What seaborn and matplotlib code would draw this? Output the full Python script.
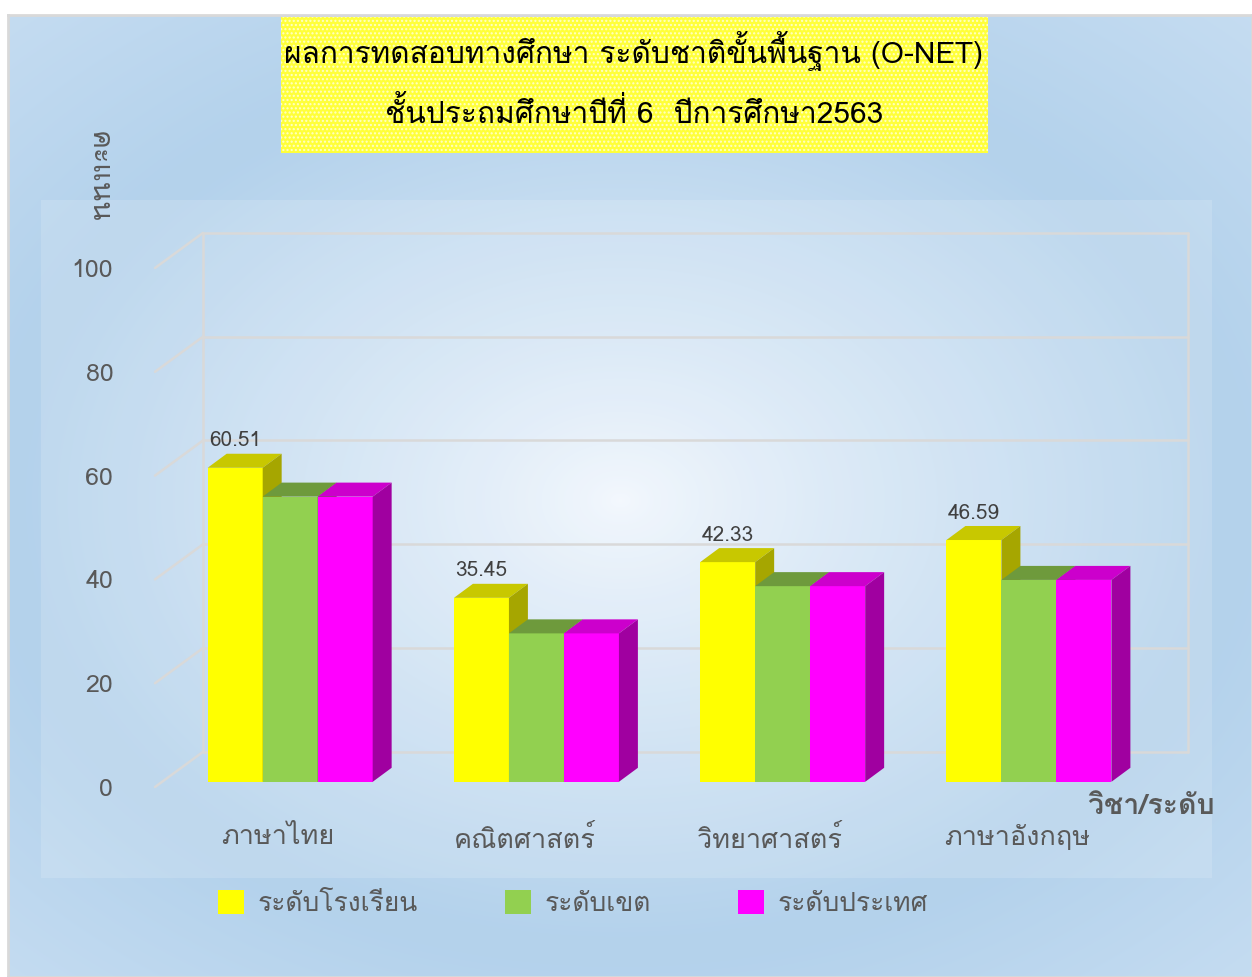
import matplotlib.pyplot as plt
import numpy as np
import pandas as pd
import seaborn as sns
from matplotlib import font_manager
from matplotlib.ft2font import FT2Font
from matplotlib.patches import Polygon, Rectangle, Patch

# --- dati ---
subjects = ["ภาษาไทย", "คณิตศาสตร์", "วิทยาศาสตร์", "ภาษาอังกฤษ"]
levels = ["ระดับโรงเรียน", "ระดับเขต", "ระดับประเทศ"]
school = [60.51, 35.45, 42.33, 46.59]
district = [54.95, 28.6, 37.7, 38.9]
national = [54.95, 28.6, 37.7, 38.9]
yticks = [0, 20, 40, 60, 80, 100]
title_lines = ["ผลการทดสอบทางศึกษา ระดับชาติขั้นพื้นฐาน (O-NET)",
               "ชั้นประถมศึกษาปีที่ 6  ปีการศึกษา2563"]
ylabel = "คะแนน"
xlabel = "วิชา/ระดับ"

front_cols = ["#FFFF00", "#92D050", "#FF00FF"]
top_cols = ["#C8C800", "#6E9A3C", "#CC00CC"]
side_cols = ["#A6A600", "#5A7E30", "#A000A0"]
grey = "#595959"
gridc = "#D9D9D9"

sns.set_theme(style="white")

# cerca un font con i glifi thai
thai_font = None
for f in font_manager.fontManager.ttflist:
    try:
        if FT2Font(f.fname).get_char_index(0x0E01):
            thai_font = f.name
            break
    except Exception:
        pass
fams = ([thai_font] if thai_font else []) + ["DejaVu Sans"]
plt.rcParams["font.family"] = fams

W, H = 1252, 977
fig = plt.figure(figsize=(W / 100, H / 100), dpi=100)
fig.patch.set_facecolor("white")

# sfondo sfumato
ax_bg = fig.add_axes([8 / W, 0, 1 - 8 / W, 1 - 15 / H], zorder=0)
yy, xx = np.mgrid[15:H, 8:W]
t = np.sqrt(((xx - 620) / 600.0) ** 2 + ((yy - 500) / 440.0) ** 2)
s = np.clip(t, 0, 1) ** 0.8
c0 = np.array([0.95, 0.97, 0.995])
c1 = np.array([0.706, 0.824, 0.925])
c2 = np.array([0.80, 0.88, 0.955])
img = c0 * (1 - s[..., None]) + c1 * s[..., None]
k = np.clip((t - 1.05) * 1.5, 0, 1)[..., None]
img = img * (1 - k) + c2 * k
ax_bg.imshow(img, aspect="auto", extent=[0, 1, 0, 1])
ax_bg.set_xticks([])
ax_bg.set_yticks([])
for sp in ax_bg.spines.values():
    sp.set_color(gridc)
    sp.set_linewidth(2)

fig.add_artist(Rectangle((41 / W, 1 - 878 / H), (1212 - 41) / W, (878 - 200) / H,
                         transform=fig.transFigure, facecolor="white", alpha=0.15,
                         linewidth=0, zorder=1))

# riquadro del titolo
fig.add_artist(Rectangle((281 / W, 1 - 153 / H), (988 - 281) / W, (153 - 17) / H,
                         transform=fig.transFigure, facecolor="#FFFF3A", edgecolor="#FFFFC8",
                         hatch="....", linewidth=0, zorder=3))
fig.text(634 / W, 1 - 51 / H, title_lines[0], ha="center", va="center", fontsize=21.5,
         color="black", zorder=4)
fig.text(634 / W, 1 - 113 / H, title_lines[1], ha="center", va="center", fontsize=21.5,
         color="black", zorder=4)

# assi principali (piano frontale)
ax = fig.add_axes([155 / W, 1 - 787 / H, 985 / W, 519 / H], zorder=2)
ax.set_facecolor("none")

df = pd.DataFrame({
    "subject": subjects * 3,
    "level": [levels[0]] * 4 + [levels[1]] * 4 + [levels[2]] * 4,
    "score": school + district + national,
})
sns.barplot(data=df, x="subject", y="score", hue="level", hue_order=levels,
            palette=front_cols, saturation=1, width=0.67, errorbar=None,
            legend=False, ax=ax)

OFF_X, OFF_Y = 0.049, 1.0   # posizione delle barre in profondità
DX, DY = 0.077, 2.7         # profondità delle barre
BX, BY = 0.195, 6.77        # profondità della parete di fondo

for i, cont in enumerate(ax.containers):
    for p in cont:
        h = p.get_height()
        x0 = p.get_x() + OFF_X
        w = p.get_width()
        x1 = x0 + w
        p.set_x(x0)
        p.set_y(OFF_Y)
        p.set_linewidth(0)
        p.set_zorder(3 + i)
        y1 = OFF_Y + h
        ax.add_patch(Polygon([(x0, y1), (x1, y1), (x1 + DX, y1 + DY), (x0 + DX, y1 + DY)],
                             closed=True, facecolor=top_cols[i], linewidth=0,
                             zorder=3 + i + 0.01, clip_on=False))
        ax.add_patch(Polygon([(x1, OFF_Y), (x1 + DX, OFF_Y + DY), (x1 + DX, y1 + DY), (x1, y1)],
                             closed=True, facecolor=side_cols[i], linewidth=0,
                             zorder=3 + i + 0.02, clip_on=False))
        if i == 0:
            ax.annotate(f"{h:.2f}", xy=(x0 + w / 2, y1), xytext=(0, 27),
                        textcoords="offset pixels", ha="center", va="center",
                        fontsize=15, color="#404040", zorder=10)

# griglia 3D
for v in yticks:
    ax.plot([-0.5, -0.5 + BX], [v, v + BY], color=gridc, lw=1.8, clip_on=False, zorder=1)
    ax.plot([-0.5 + BX, 3.5 + BX], [v + BY, v + BY], color=gridc, lw=1.8, clip_on=False, zorder=1)
for xv in [-0.5 + BX, 3.5 + BX]:
    ax.plot([xv, xv], [BY, 100 + BY], color=gridc, lw=1.8, clip_on=False, zorder=1)

ax.set_xlim(-0.5, 3.5)
ax.set_ylim(0, 100)
ax.set_yticks(yticks)
ax.set_xlabel("")
ax.set_ylabel("")
sns.despine(ax=ax, left=True, bottom=True)
ax.tick_params(axis="y", length=0, pad=30, labelsize=18, labelcolor=grey)
ax.tick_params(axis="x", length=0, pad=27, labelsize=19.5, labelcolor=grey)

fig.text(98 / W, 1 - 177 / H, ylabel, rotation=270, ha="center", va="center",
         fontsize=20.5, color=grey, zorder=4)
fig.text(1151 / W, 1 - 807 / H, xlabel, ha="center", va="center", fontsize=20.5,
         fontweight="bold", color=grey, zorder=4)

handles = [Patch(facecolor=c, edgecolor="none") for c in front_cols]
leg = fig.legend(handles, levels, loc="center", bbox_to_anchor=(573 / W, 1 - 903 / H),
                 ncol=3, frameon=False, fontsize=19, handlelength=1.0, handleheight=1.0,
                 handletextpad=0.5, columnspacing=3.3, labelcolor=grey)
leg.set_zorder(5)

fig.savefig("out.png", dpi=100)
